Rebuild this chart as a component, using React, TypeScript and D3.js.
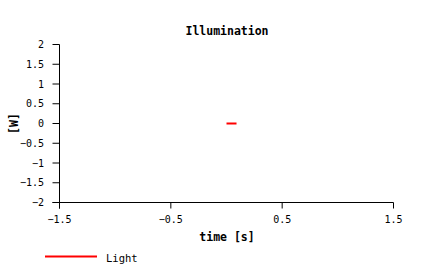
import React from "react";
import * as d3 from "d3";

const title = "Illumination";
const xLabel = "time [s]";
const yLabel = "[W]";
const xTicks = [-1.5, -0.5, 0.5, 1.5];
const yTicks = [-2, -1.5, -1, -0.5, 0, 0.5, 1, 1.5, 2];
const seriesName = "Light";
const lightX = [0, 0.09];
const lightY = [0, 0];

const W = 427;
const H = 280;
const font = "'DejaVu Sans Mono', monospace";

export default function App() {
  const x = d3.scaleLinear().domain([-1.5, 1.5]).range([59.5, 393.5]);
  const y = d3.scaleLinear().domain([-2, 2]).range([202.5, 44.5]);
  const line = d3
    .line<number>()
    .x((_, i) => x(lightX[i]))
    .y((d) => y(d));
  const fmt = (v: number) => String(v).replace("-", "\u2212");
  return (
    <svg
      width={W}
      height={H}
      style={{ position: "absolute", left: 0, top: 0, background: "#fff" }}
      fontFamily={font}
    >
      <text x={227} y={35} textAnchor="middle" fontSize={11.5} fontWeight="bold">
        {title}
      </text>
      {/* axes */}
      <line x1={x(-1.5)} x2={x(-1.5)} y1={y(2)} y2={y(-2) + 6} stroke="#000" />
      <line x1={x(-1.5) - 7} x2={x(1.5)} y1={y(-2)} y2={y(-2)} stroke="#000" />
      {yTicks.map((t) => (
        <g key={"y" + t}>
          <line x1={x(-1.5) - 7} x2={x(-1.5)} y1={y(t)} y2={y(t)} stroke="#000" />
          <text x={44} y={y(t) + 3.5} textAnchor="end" fontSize={10}>
            {fmt(t)}
          </text>
        </g>
      ))}
      {xTicks.map((t) => (
        <g key={"x" + t}>
          <line x1={x(t)} x2={x(t)} y1={y(-2)} y2={y(-2) + 6} stroke="#000" />
          <text x={x(t)} y={223} textAnchor="middle" fontSize={10}>
            {fmt(t)}
          </text>
        </g>
      ))}
      <text x={227} y={241} textAnchor="middle" fontSize={11.5} fontWeight="bold">
        {xLabel}
      </text>
      <text
        transform={`translate(18,${y(0)}) rotate(-90)`}
        textAnchor="middle"
        fontSize={11.5}
        fontWeight="bold"
      >
        {yLabel}
      </text>
      <path d={line(lightY) || ""} stroke="#f00" strokeWidth={2} fill="none" />
      {/* legend */}
      <line x1={45} x2={97} y1={256.5} y2={256.5} stroke="#f00" strokeWidth={2} />
      <text x={106} y={262} fontSize={10.5}>
        {seriesName}
      </text>
    </svg>
  );
}
